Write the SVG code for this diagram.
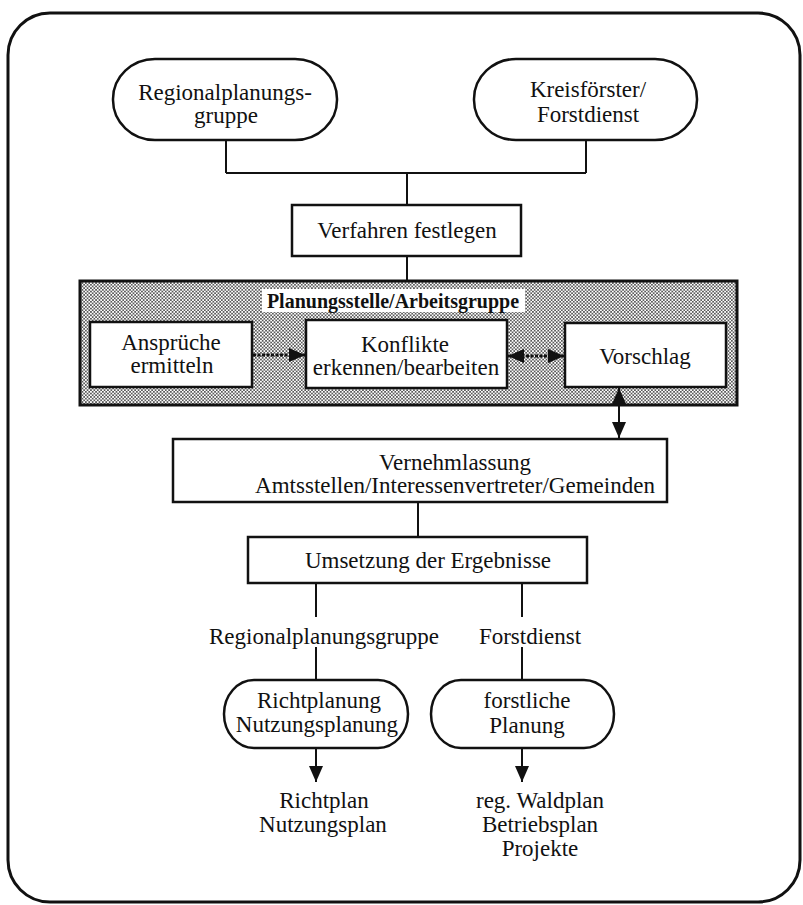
<svg xmlns="http://www.w3.org/2000/svg" width="803" height="905" viewBox="0 0 803 905">
<defs>
<pattern id="dots" width="3.4" height="3.4" patternUnits="userSpaceOnUse">
<rect width="3.4" height="3.4" fill="#fff"/>
<circle cx="0.85" cy="0.85" r="0.8" fill="#111"/>
<circle cx="2.55" cy="2.55" r="0.8" fill="#111"/>
</pattern>
<marker id="arr" viewBox="0 0 16 14" refX="16" refY="7" markerWidth="16" markerHeight="14" markerUnits="userSpaceOnUse" orient="auto-start-reverse">
<path d="M0,0 L16,7 L0,14 z" fill="#111"/>
</marker>
</defs>
<style>
text{font-family:"Liberation Serif","Times New Roman",serif;font-size:23px;fill:#111;text-anchor:middle}
.b{stroke:#111;stroke-width:2.5;fill:#fff}
.c{stroke:#111;stroke-width:2;fill:none}
.t{font-weight:bold;font-size:20px}
</style>
<rect x="8" y="13" width="792" height="889" rx="42" ry="42" fill="#fff" stroke="#111" stroke-width="3"/>
<g id="regionalplanungsgruppe">
<rect class="b" x="113" y="59" width="224" height="81" rx="42" ry="40"/>
<text x="225" y="100">Regionalplanungs-</text>
<text x="226" y="123">gruppe</text>
</g>
<g id="kreisfoerster">
<rect class="b" x="474" y="59" width="223" height="81" rx="42" ry="40"/>
<text x="588" y="97">Kreisförster/</text>
<text x="588" y="122">Forstdienst</text>
</g>
<g id="verfahren">
<rect class="b" x="292" y="205" width="229" height="51"/>
<text x="407" y="238">Verfahren festlegen</text>
</g>
<g id="planungsstelle">
<rect x="80" y="281" width="657" height="124" fill="url(#dots)" stroke="#111" stroke-width="3"/>
<rect x="262" y="289" width="263" height="23" fill="#fff"/>
<text class="t" x="393" y="308">Planungsstelle/Arbeitsgruppe</text>
</g>
<g id="ansprueche">
<rect class="b" x="90" y="322" width="162" height="65" stroke-width="3"/>
<text x="171" y="350">Ansprüche</text>
<text x="172" y="373">ermitteln</text>
</g>
<g id="konflikte">
<rect class="b" x="306" y="320" width="201" height="68" stroke-width="3"/>
<text x="405" y="352">Konflikte</text>
<text x="406" y="375">erkennen/bearbeiten</text>
</g>
<g id="vorschlag">
<rect class="b" x="565" y="323" width="161" height="64" stroke-width="3"/>
<text x="645" y="364">Vorschlag</text>
</g>
<g id="vernehmlassung">
<rect class="b" x="173" y="439" width="494" height="63"/>
<text x="455" y="470">Vernehmlassung</text>
<text x="455" y="493">Amtsstellen/Interessenvertreter/Gemeinden</text>
</g>
<g id="umsetzung">
<rect class="b" x="248" y="537" width="339" height="46"/>
<text x="428" y="568">Umsetzung der Ergebnisse</text>
</g>
<g id="label-regional">
<text x="324" y="644">Regionalplanungsgruppe</text>
</g>
<g id="label-forstdienst">
<text x="530" y="644">Forstdienst</text>
</g>
<g id="richtplanung">
<rect class="b" x="224" y="680" width="184" height="68" rx="30" ry="34"/>
<text x="319" y="708">Richtplanung</text>
<text x="317" y="732">Nutzungsplanung</text>
</g>
<g id="forstliche-planung">
<rect class="b" x="431" y="680" width="183" height="68" rx="30" ry="34"/>
<text x="527" y="708">forstliche</text>
<text x="527" y="733">Planung</text>
</g>
<g id="ergebnis-richtplan">
<text x="324" y="808">Richtplan</text>
<text x="323" y="832">Nutzungsplan</text>
</g>
<g id="ergebnis-waldplan">
<text x="540" y="808">reg. Waldplan</text>
<text x="540" y="832">Betriebsplan</text>
<text x="540" y="856">Projekte</text>
</g>
<g id="connectors">
<path class="c" d="M226,140 V173 M586,140 V173 M226,173 H586 M407,173 V205"/>
<path class="c" d="M407,256 V281"/>
<line x1="253" y1="355" x2="305" y2="355" stroke="#111" stroke-width="3" stroke-dasharray="3 1.5" marker-end="url(#arr)"/>
<line x1="508" y1="356" x2="564" y2="356" stroke="#111" stroke-width="3" stroke-dasharray="3 1.5" marker-start="url(#arr)" marker-end="url(#arr)"/>
<line x1="619" y1="388" x2="619" y2="438" class="c" marker-start="url(#arr)" marker-end="url(#arr)"/>
<path class="c" d="M418,502 V537"/>
<path class="c" d="M316,583 V617 M316,647 V680 M522,583 V617 M522,647 V680"/>
<line x1="316" y1="748" x2="316" y2="782" class="c" marker-end="url(#arr)"/>
<line x1="522" y1="748" x2="522" y2="782" class="c" marker-end="url(#arr)"/>
</g>
</svg>
